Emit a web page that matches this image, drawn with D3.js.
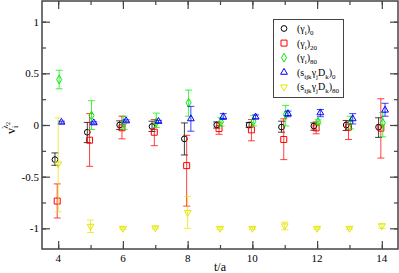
<!DOCTYPE html>
<html>
<head>
<meta charset="utf-8">
<script src="https://cdn.jsdelivr.net/npm/d3@7"></script>
<style>
  body { margin: 0; background: #fff; }
  svg text { font-family: "Liberation Serif", "Times New Roman", "DejaVu Serif", serif; }
</style>
</head>
<body>
<svg id="plot_svg"></svg>
<script>
// time slices
var tVals = [4, 5, 6, 7, 8, 9, 10, 11, 12, 13, 14];

// (gamma_i)_0
var g0Val = [-0.335, -0.07, 0.0, -0.015, -0.134, 0.0, 0.0, -0.02, -0.01, 0.0, -0.02];
var g0Hi  = [-0.27, 0.025, 0.04, 0.037, 0.02, 0.03, 0.025, 0.037, 0.02, 0.044, 0.07];
var g0Lo  = [-0.39, -0.17, -0.044, -0.063, -0.29, -0.03, -0.025, -0.07, -0.05, -0.053, -0.12];

// (gamma_i)_20
var g20Val = [-0.736, -0.147, -0.027, -0.07, -0.393, -0.035, -0.047, -0.14, -0.028, -0.02, -0.03];
var g20Hi  = [-0.57, 0.11, 0.085, 0.053, -0.1, 0.02, 0.053, 0.06, 0.03, 0.037, 0.254];
var g20Lo  = [-0.9, -0.4, -0.134, -0.2, -0.785, -0.09, -0.153, -0.335, -0.085, -0.14, -0.32];

// (gamma_i)_80
var g80Val = [0.44, 0.092, 0.017, 0.027, 0.215, 0.03, 0.035, 0.1, 0.03, 0.027, 0.02];
var g80Hi  = [0.53, 0.235, 0.085, 0.115, 0.338, 0.07, 0.09, 0.19, 0.05, 0.085, 0.12];
var g80Lo  = [0.35, -0.044, -0.044, -0.024, 0.085, -0.01, -0.01, -0.01, 0.01, -0.037, -0.115];

// (s_ijk gamma_j D_k)_0
var sd0Val = [0.027, 0.021, 0.04, 0.035, 0.06, 0.08, 0.078, 0.11, 0.118, 0.06, 0.144];
var sd0Hi  = [0.037, 0.031, 0.05, 0.045, 0.18, 0.11, 0.098, 0.134, 0.15, 0.11, 0.21];
var sd0Lo  = [0.017, 0.011, 0.03, 0.025, -0.06, 0.053, 0.058, 0.08, 0.08, 0.01, 0.085];

// (s_ijk gamma_j D_k)_80
var sd80Val = [-0.377, -0.98, -1.0, -0.995, -0.846, -1.0, -1.0, -0.976, -1.0, -1.0, -0.976];
var sd80Hi  = [0.07, -0.92, -0.99, -0.985, -0.69, -0.99, -0.99, -0.94, -0.99, -0.99, -0.956];
var sd80Lo  = [-0.84, -1.04, -1.01, -1.005, -1.0, -1.01, -1.01, -1.015, -1.01, -1.01, -1.0];

var xTicks = [4, 6, 8, 10, 12, 14];
var yTicks = [-1, -0.5, 0, 0.5, 1];
var yTickLabels = ["-1", "-0.5", "0", "0.5", "1"];

// legend labels: [text, subscript?]
var seriesLabels = [
  [["(\u03b3", 0], ["i", 1], [")", 0], ["0", 1]],
  [["(\u03b3", 0], ["i", 1], [")", 0], ["20", 1]],
  [["(\u03b3", 0], ["i", 1], [")", 0], ["80", 1]],
  [["(s", 0], ["ijk", 1], ["\u03b3", 0], ["j", 1], ["D", 0], ["k", 1], [")", 0], ["0", 1]],
  [["(s", 0], ["ijk", 1], ["\u03b3", 0], ["j", 1], ["D", 0], ["k", 1], [")", 0], ["80", 1]]
];

var series = [
  {val: g0Val, hi: g0Hi, lo: g0Lo, color: "#000000", sym: d3.symbolCircle, size: 26, shift: -0.1},
  {val: g20Val, hi: g20Hi, lo: g20Lo, color: "#ff0000", sym: d3.symbolSquare, size: 36, shift: -0.03},
  {val: g80Val, hi: g80Hi, lo: g80Lo, color: "#00ee00", sym: d3.symbolDiamond, size: 22, shift: 0.03},
  {val: sd0Val, hi: sd0Hi, lo: sd0Lo, color: "#0000ff", sym: d3.symbolTriangle, size: 20, shift: 0.1},
  {val: sd80Val, hi: sd80Hi, lo: sd80Lo, color: "#e6e600", sym: d3.symbolTriangle, size: 20, shift: 0, flip: true}
];

// set canvas size
var svg = d3.select("#plot_svg"),
    margin = {top: 1, right: 1, bottom: 24, left: 42},
    W = 399, H = 273,
    width = W - margin.left - margin.right,
    height = H - margin.top - margin.bottom;

svg.attr("width", W).attr("height", H);

var x = d3.scaleLinear().domain([3.5, 14.5]).range([0, width]),
    y = d3.scaleLinear().domain([-1.2, 1.2]).range([height, 0]);

var g = svg.append("g")
    .attr("transform", "translate(" + margin.left + "," + margin.top + ")");

// inward ticks on all four sides
var minorX = d3.range(4, 15, 1), minorY = d3.range(-1, 1.01, 0.25);
var axisCol = "#444";
function ticks(axis, vals, len, tr) {
  g.append("g").attr("class", "tk")
      .attr("transform", tr)
      .call(axis.tickValues(vals).tickSize(len).tickFormat(""));
}
ticks(d3.axisTop(x), minorX, 4, "translate(0," + height + ")");
ticks(d3.axisTop(x), xTicks, 8, "translate(0," + height + ")");
ticks(d3.axisBottom(x), minorX, 4, "translate(0,0)");
ticks(d3.axisBottom(x), xTicks, 8, "translate(0,0)");
ticks(d3.axisRight(y), minorY, 4, "translate(0,0)");
ticks(d3.axisRight(y), yTicks, 8, "translate(0,0)");
ticks(d3.axisLeft(y), minorY, 4, "translate(" + width + ",0)");
ticks(d3.axisLeft(y), yTicks, 8, "translate(" + width + ",0)");
g.selectAll(".tk .tick line").attr("stroke", axisCol).attr("stroke-width", 1.2);
g.selectAll(".tk .domain").remove();

g.append("rect")
    .attr("width", width).attr("height", height)
    .attr("fill", "none").attr("stroke", axisCol).attr("stroke-width", 1.5);

// tick labels
g.selectAll(".xlab").data(xTicks).enter().append("text")
    .attr("x", function(d) { return x(d); })
    .attr("y", height + 13)
    .attr("text-anchor", "middle")
    .style("font-size", "11px")
    .text(function(d) { return d; });

g.selectAll(".ylab").data(yTicks).enter().append("text")
    .attr("x", -3)
    .attr("y", function(d) { return y(d) + 4; })
    .attr("text-anchor", "end")
    .style("font-size", "11px")
    .text(function(d, i) { return yTickLabels[i]; });

// axis titles
svg.append("text")
    .attr("x", 220).attr("y", 271)
    .attr("text-anchor", "middle")
    .style("font-size", "12px")
    .text("t/a");

var yl = svg.append("text")
    .attr("transform", "translate(15,134) rotate(-90)")
    .style("font-size", "12px");
yl.append("tspan").text("v");
yl.append("tspan").attr("dy", 3).style("font-size", "8px").text("i");
yl.append("tspan").attr("dx", -3).attr("dy", -10).style("font-size", "8px").text("\u03bb");
yl.append("tspan").attr("dy", 2).style("font-size", "6px").text("2");

// error bars and symbols
series.forEach(function(s) {
  var pts = tVals.map(function(t, i) {
    return {x: x(t + s.shift), y: y(s.val[i]), hi: y(s.hi[i]), lo: y(s.lo[i])};
  });
  var sg = g.append("g").attr("stroke", s.color).attr("fill", "none");
  sg.selectAll(".eb").data(pts).enter().append("path")
      .attr("stroke-opacity", 0.75)
      .attr("d", function(d) {
        return "M" + d.x + "," + d.hi + "V" + d.lo +
               "M" + (d.x - 3.5) + "," + d.hi + "h7" +
               "M" + (d.x - 3.5) + "," + d.lo + "h7";
      });
  sg.selectAll(".sym").data(pts).enter().append("path")
      .attr("transform", function(d) {
        return "translate(" + d.x + "," + d.y + ")" + (s.flip ? " rotate(180)" : "");
      })
      .attr("d", d3.symbol().type(s.sym).size(s.size));
});

// legend
var lg = svg.append("g");
lg.append("rect")
    .attr("x", 273.5).attr("y", 19.5).attr("width", 70).attr("height", 78)
    .attr("fill", "#fff").attr("stroke", "#444");
series.forEach(function(s, i) {
  var ly = 28.5 + i * 14.6;
  lg.append("path")
      .attr("transform", "translate(284," + ly + ")" + (s.flip ? " rotate(180)" : ""))
      .attr("d", d3.symbol().type(s.sym).size(s.size))
      .attr("fill", "none").attr("stroke", s.color);
  var t = lg.append("text").attr("x", 297).attr("y", ly + 3.5).style("font-size", "10px");
  var down = false;
  seriesLabels[i].forEach(function(p) {
    var ts = t.append("tspan").text(p[0]);
    if (p[1] && !down) { ts.attr("dy", 3).style("font-size", "7px"); down = true; }
    else if (p[1]) { ts.style("font-size", "7px"); }
    else if (down) { ts.attr("dy", -3); down = false; }
  });
});
</script>
</body>
</html>
